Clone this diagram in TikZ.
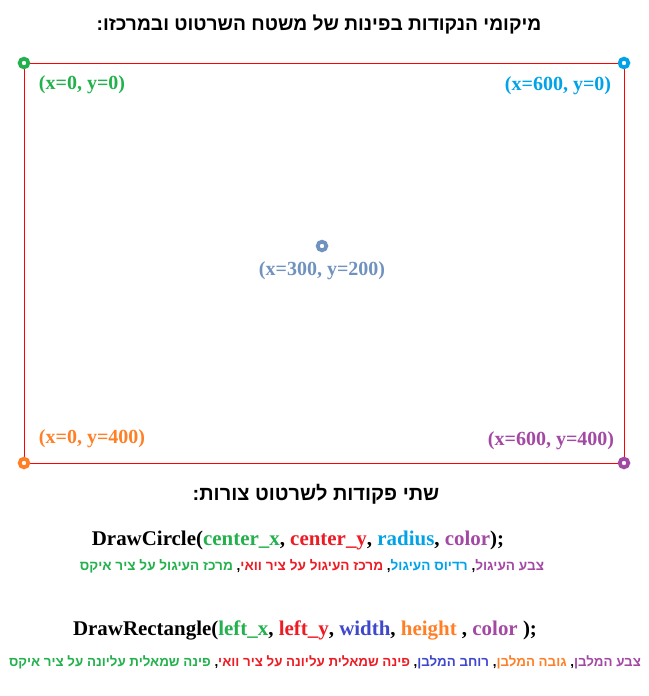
\documentclass[tikz,border=0pt]{standalone}
\usepackage{fontspec}
\setmainfont{Liberation Serif}
\newfontfamily\hebfont[Script=Hebrew]{Liberation Sans}
\TeXXeTstate=1
\definecolor{pgreen}{HTML}{22B14C}
\definecolor{pblue}{HTML}{00A2E8}
\definecolor{porange}{HTML}{FF7F27}
\definecolor{ppurple}{HTML}{A349A4}
\definecolor{pgray}{HTML}{7092BE}
\definecolor{pred}{HTML}{ED1C24}
\definecolor{pindigo}{HTML}{3F48CC}
% pezzo di testo ebraico colorato
\newcommand{\rtlpart}[2]{\textcolor{#1}{\beginR #2\endR}}
\tikzset{
  cornerdot/.style={circle, draw=#1, fill=white, line width=2.8pt, minimum size=6.5pt, inner sep=0pt},
  coordlabel/.style={text=#1, font=\fontsize{15}{17}\selectfont\bfseries, inner sep=0pt},
  heading/.style={font=\hebfont\fontsize{14.4}{16}\selectfont\bfseries, inner sep=0pt},
  command/.style={font=\fontsize{15.7}{18}\selectfont\bfseries, inner sep=0pt},
  hint/.style={font=\hebfont\fontsize{10.2}{12}\selectfont\bfseries, inner sep=0pt}
}
\begin{document}
\begin{tikzpicture}[x=0.75pt, y=-0.75pt]
    \useasboundingbox (0,0) rectangle (649,696);

    % Titolo
    \node[heading] (title) at (319,25) {\beginR מיקומי הנקודות בפינות של משטח השרטוט ובמרכזו:\endR};

    % Angoli del piano di disegno
    \coordinate (tl) at (24,63);
    \coordinate (tr) at (624,63);
    \coordinate (bl) at (24,463);
    \coordinate (br) at (624,463);
    \draw[red, line width=0.75pt] (tl) rectangle (br);

    \node[cornerdot=pgreen] (tldot) at (tl) {};
    \node[cornerdot=pblue] (trdot) at (tr) {};
    \node[cornerdot=porange] (bldot) at (bl) {};
    \node[cornerdot=ppurple] (brdot) at (br) {};
    \node[cornerdot=pgray] (middot) at (322,246) {};

    % Etichette delle coordinate
    \node[coordlabel=pgreen] (tllabel) at (82,85) {(x=0, y=0)};
    \node[coordlabel=pblue] (trlabel) at (558,86) {(x=600, y=0)};
    \node[coordlabel=porange] (bllabel) at (92,439) {(x=0, y=400)};
    \node[coordlabel=ppurple] (brlabel) at (551,441) {(x=600, y=400)};
    \node[coordlabel=pgray] (midlabel) at (322,271) {(x=300, y=200)};

    % Comandi
    \node[heading, font=\hebfont\fontsize{15}{17}\selectfont\bfseries] (subtitle) at (316,494) {\beginR שתי פקודות לשרטוט צורות:\endR};

    \node[command] (circlecmd) at (298,540) {DrawCircle(\textcolor{pgreen}{center\_x}, \textcolor{pred}{center\_y}, \textcolor{pblue}{radius}, \textcolor{ppurple}{color});};
    \node[hint] (circlehint) at (312,566) {\rtlpart{pgreen}{מרכז העיגול על ציר איקס} ,\rtlpart{pred}{מרכז העיגול על ציר וואי} ,\rtlpart{pblue}{רדיוס העיגול} ,\rtlpart{ppurple}{צבע העיגול}};

    \node[command] (rectcmd) at (305,630) {DrawRectangle(\textcolor{pgreen}{left\_x}, \textcolor{pred}{left\_y}, \textcolor{pindigo}{width}, \textcolor{porange}{height} , \textcolor{ppurple}{color} );};
    \node[hint, font=\hebfont\fontsize{10}{12}\selectfont\bfseries] (recthint) at (325,662) {\rtlpart{pgreen}{פינה שמאלית עליונה על ציר איקס} ,\rtlpart{pred}{פינה שמאלית עליונה על ציר וואי} ,\rtlpart{pindigo}{רוחב המלבן} ,\rtlpart{porange}{גובה המלבן} ,\rtlpart{ppurple}{צבע המלבן}};
\end{tikzpicture}
\end{document}
